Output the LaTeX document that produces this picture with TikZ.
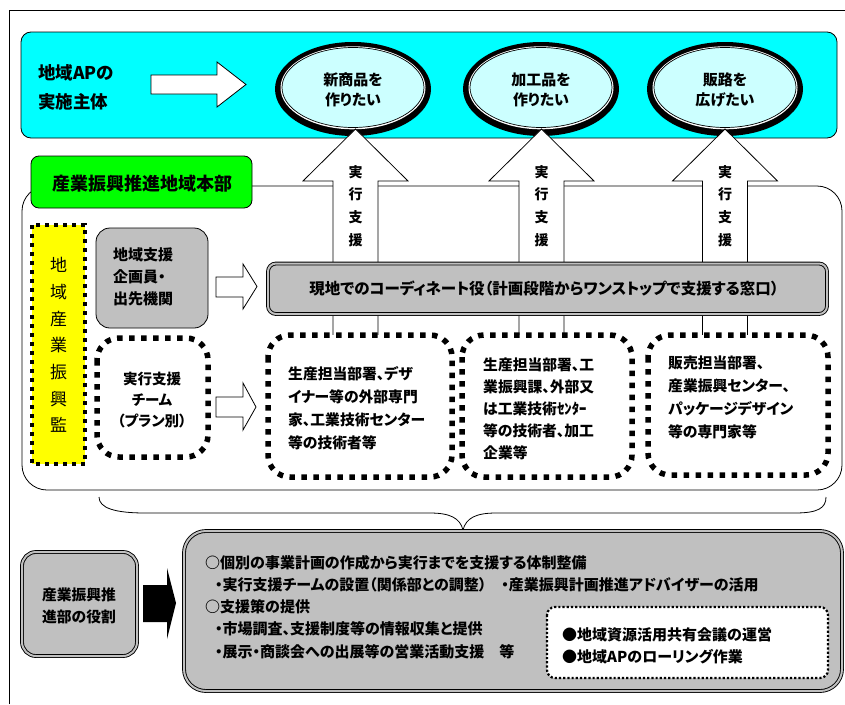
\documentclass[tikz,border=0pt]{standalone}
\usepackage{fontspec}
\setmainfont{Noto Sans CJK JP}[RawFeature={+palt}]
\usetikzlibrary{shapes.geometric}
\definecolor{cyanA}{HTML}{00FFFF}
\definecolor{greenA}{HTML}{00FF00}
\definecolor{yellowA}{HTML}{FFFF00}
\definecolor{grayA}{HTML}{C0C0C0}
\definecolor{lcyan}{HTML}{CCFFFF}
\newcommand{\jfont}[2]{\bfseries\fontsize{#1}{#2}\selectfont}
\tikzset{
  jt/.style={inner sep=0pt, align=left},
  jc/.style={inner sep=0pt, align=center},
  hollow/.style={draw=black, fill=white, line width=0.8pt},
  bigdots/.style={draw=black, fill=white, line width=5.5pt, dash pattern=on 5.5pt off 6.5pt, rounded corners=22pt},
  gbox/.style={draw=black, double=grayA, double distance=2pt, line width=0.9pt, fill=grayA},
}
\begin{document}
\begin{tikzpicture}[x=1pt,y=-1pt]
\useasboundingbox (0,0) rectangle (845,704);
\fill[white] (0,0) rectangle (845,704);
% page frame
\draw[line width=0.8pt] (9.5,704) -- (9.5,10.5) -- (845,10.5);

% ---- top band: the implementing body and its goals
\draw[fill=cyanA, rounded corners=10pt, line width=0.8pt] (21,32) rectangle (837,138);
\node[jt, anchor=west, font=\jfont{17.5}{29}] (body) at (38,87.5) {地域APの\\実施主体};
\draw[hollow] (151,75) -- (217,75) -- (217,62) -- (246,84.5) -- (217,107) -- (217,94) -- (151,94) -- cycle;

\foreach \cx/\nm/\txt in {353/g1/{新商品を\\作りたい}, 541/g2/{加工品を\\作りたい}, 725/g3/{販路を\\広げたい}}{
  \fill[black] (\cx,89) ellipse [x radius=78, y radius=47];
  \fill[white] (\cx,87.8) ellipse [x radius=72.5, y radius=41.5];
  \draw[fill=lcyan, line width=0.7pt] (\cx,87.5) ellipse [x radius=71, y radius=40];
  \node[jc, font=\jfont{15}{20.5}] (\nm) at (\cx,90) {\txt};
}

% ---- regional headquarters frame
\draw[line width=0.8pt, rounded corners=25pt] (22,186) rectangle (842,490);

% upward support arrows
\foreach \cx/\nm in {355.5/s1, 541.5/s2, 725/s3}{
  \draw[hollow] (\cx,129) -- (\cx+52.5,181) -- (\cx+22.5,181) -- (\cx+22.5,336)
     -- (\cx-22.5,336) -- (\cx-22.5,181) -- (\cx-52.5,181) -- cycle;
  \node[jc, font=\jfont{14}{22.7}] (\nm) at (\cx,206) {実\\行\\支\\援};
}

\draw[fill=greenA, rounded corners=8pt, line width=0.8pt] (31,156) rectangle (252,208);
\node[jc, font=\jfont{18}{22}] (hq) at (142,184) {産業振興推進地域本部};

% supervisor column
\draw[fill=yellowA, line width=4pt, dash pattern=on 4pt off 5pt] (32,225) rectangle (85,464);
\node[jc, font=\mdseries\fontsize{17}{26.7}\selectfont] (kan) at (58.5,345) {地\\域\\産\\業\\振\\興\\監};

% planners and coordination bar
\draw[fill=grayA, rounded corners=14pt, line width=0.8pt] (96,228) rectangle (208,328);
\node[jt, anchor=west, font=\jfont{15}{22}] (plan) at (113,277) {地域支援\\企画員・\\出先機関};
\draw[hollow] (216,277) -- (243,277) -- (243,264) -- (257,286.5) -- (243,309) -- (243,297) -- (216,297) -- cycle;
\draw[gbox, rounded corners=8pt] (268,263.5) rectangle (827,314);
\node[jc, font=\jfont{15.5}{20}] (coord) at (544,288) {現地でのコーディネート役（計画段階からワンストップで支援する窓口）};

% support teams
\draw[bigdots] (97,338) rectangle (208,457);
\node[jc, font=\jfont{14.5}{21}] (team) at (152,400) {実行支援\\チーム\\（プラン別）};
\draw[hollow] (216,397) -- (243,397) -- (243,383) -- (256,407) -- (243,430) -- (243,417) -- (216,417) -- cycle;

\draw[bigdots] (268,335) rectangle (452,477);
\node[jt, anchor=west, font=\jfont{14.8}{23}] (ta) at (288,408) {生産担当部署、デザ\\イナー等の外部専門\\家、工業技術センター\\等の技術者等};
\draw[bigdots] (462,335) rectangle (632,477);
\node[jt, anchor=west, font=\jfont{14.8}{22}] (tb) at (483,409) {生産担当部署、工\\業振興課、外部又\\は工業技術ｾﾝﾀｰ\\等の技術者、加工\\企業等};
\draw[bigdots] (648,335) rectangle (828,475);
\node[jt, anchor=west, font=\jfont{14.8}{23}] (tc) at (668,397.5) {販売担当部署、\\産業振興センター、\\パッケージデザイン\\等の専門家等};

% brace
\draw[line width=0.8pt] (99,497) .. controls (99,508) and (115,513) .. (145,513) -- (430,513)
  .. controls (450,513) and (460,518) .. (463,530)
  .. controls (466,518) and (476,513) .. (496,513) -- (795,513)
  .. controls (818,513) and (826,508) .. (826,497);

% ---- role of the promotion department
\draw[gbox, rounded corners=14pt] (22,552) rectangle (137,656);
\node[jc, font=\jfont{14.8}{22}] (role) at (79,606) {産業振興推\\進部の役割};
\fill[black] (143,585) -- (167,585) -- (167,568) -- (176,603) -- (167,639) -- (167,622) -- (143,622) -- cycle;

\draw[gbox, rounded corners=22pt] (184,531) rectangle (842,691);
\node[jt, anchor=west, font=\jfont{15}{22}] (r1) at (205,563) {○個別の事業計画の作成から実行までを支援する体制整備};
\node[jt, anchor=west, font=\jfont{15}{22}] (r2) at (215,585) {・実行支援チームの設置（関係部との調整）　・産業振興計画推進アドバイザーの活用};
\node[jt, anchor=west, font=\jfont{15}{22}] (r3) at (205,607) {○支援策の提供};
\node[jt, anchor=west, font=\jfont{15}{22}] (r4) at (215,629) {・市場調査、支援制度等の情報収集と提供};
\node[jt, anchor=west, font=\jfont{15}{22}] (r5) at (215,652) {・展示・商談会への出展等の営業活動支援　等};

\draw[fill=white, line width=2.2pt, dash pattern=on 2.2pt off 2pt, rounded corners=8pt] (547,607) rectangle (828,678);
\node[jt, anchor=west, font=\jfont{15}{22}] (m1) at (562,635) {●地域資源活用共有会議の運営};
\node[jt, anchor=west, font=\jfont{15}{22}] (m2) at (562,657) {●地域APのローリング作業};
\end{tikzpicture}
\end{document}
